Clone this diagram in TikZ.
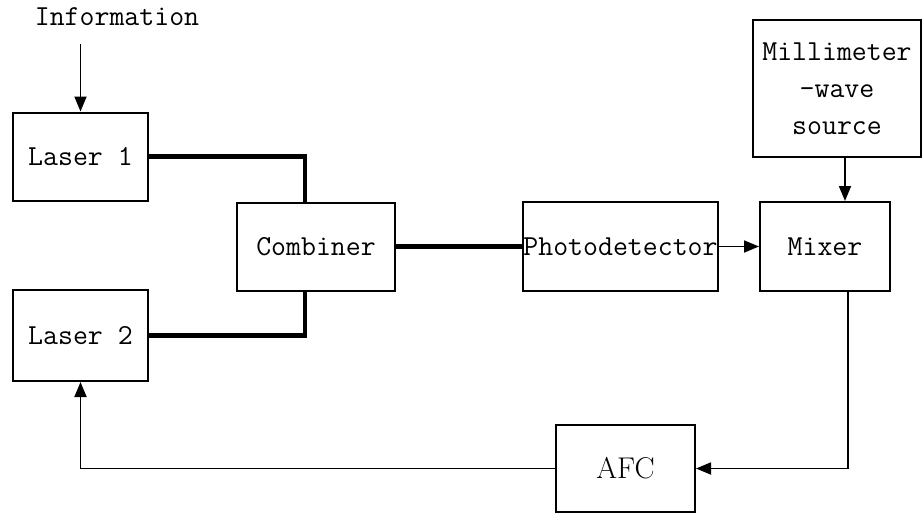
\documentclass[tikz,border=0pt]{standalone}
\usetikzlibrary{arrows.meta}

\begin{document}
\begin{tikzpicture}[x=0.5pt,y=-0.5pt,line cap=butt,line join=miter,
  blk/.style={draw,line width=1pt,inner sep=0pt,align=center,
    font=\ttfamily\fontsize{14.5}{18.5}\selectfont},
  fiber/.style={line width=2.2pt},
  sig/.style={line width=0.9pt,-{Triangle[length=7.5pt,width=6pt]}}]

  \useasboundingbox (0,0) rectangle (923,515);

  % ---- optical part ----
  \node[blk,minimum width=67.5pt,minimum height=44pt] (laserA) at (80.5,156.5) {Laser 1};
  \node[blk,minimum width=67.5pt,minimum height=45.5pt] (laserB) at (80.5,335.5) {Laser 2};
  \node[blk,minimum width=79pt,minimum height=44pt] (comb) at (316,246.5) {Combiner};
  \node[blk,minimum width=97.5pt,minimum height=44.5pt] (pd) at (620.5,246.5) {Photodetector};

  % ---- electrical part ----
  \node[blk,minimum width=65pt,minimum height=44.5pt] (mixer) at (825,246.5) {Mixer};
  \node[blk,minimum width=84pt,minimum height=68.5pt] (mmw) at (837,88.5)
    {Millimeter\\-wave\\source};
  \node[blk,font=\rmfamily\fontsize{15}{18}\selectfont,
    minimum width=69.5pt,minimum height=43.5pt] (afc) at (625.5,468.5) {AFC};

  \node[font=\ttfamily\fontsize{14.5}{18.5}\selectfont,inner sep=1pt] (info) at (117,17) {Information};

  % connectors
  \draw[sig] ([yshift=-8pt]laserA.north |- info.south) -- (laserA.north);
  \draw[fiber] (laserA.east) -| ([xshift=-5.5pt]comb.north);
  \draw[fiber] (laserB.east) -| ([xshift=-5.5pt]comb.south);
  \draw[fiber] (comb.east) -- (comb.east -| pd.west);
  \draw[sig] (pd.east) -- (mixer.west);
  \draw[sig] ([xshift=4pt]mmw.south) -- ([xshift=4pt]mmw.south |- mixer.north);
  \draw[sig] ([xshift=11.5pt]mixer.south) |- (afc.east);
  \draw[sig] (afc.west) -| (laserB.south);
\end{tikzpicture}
\end{document}
